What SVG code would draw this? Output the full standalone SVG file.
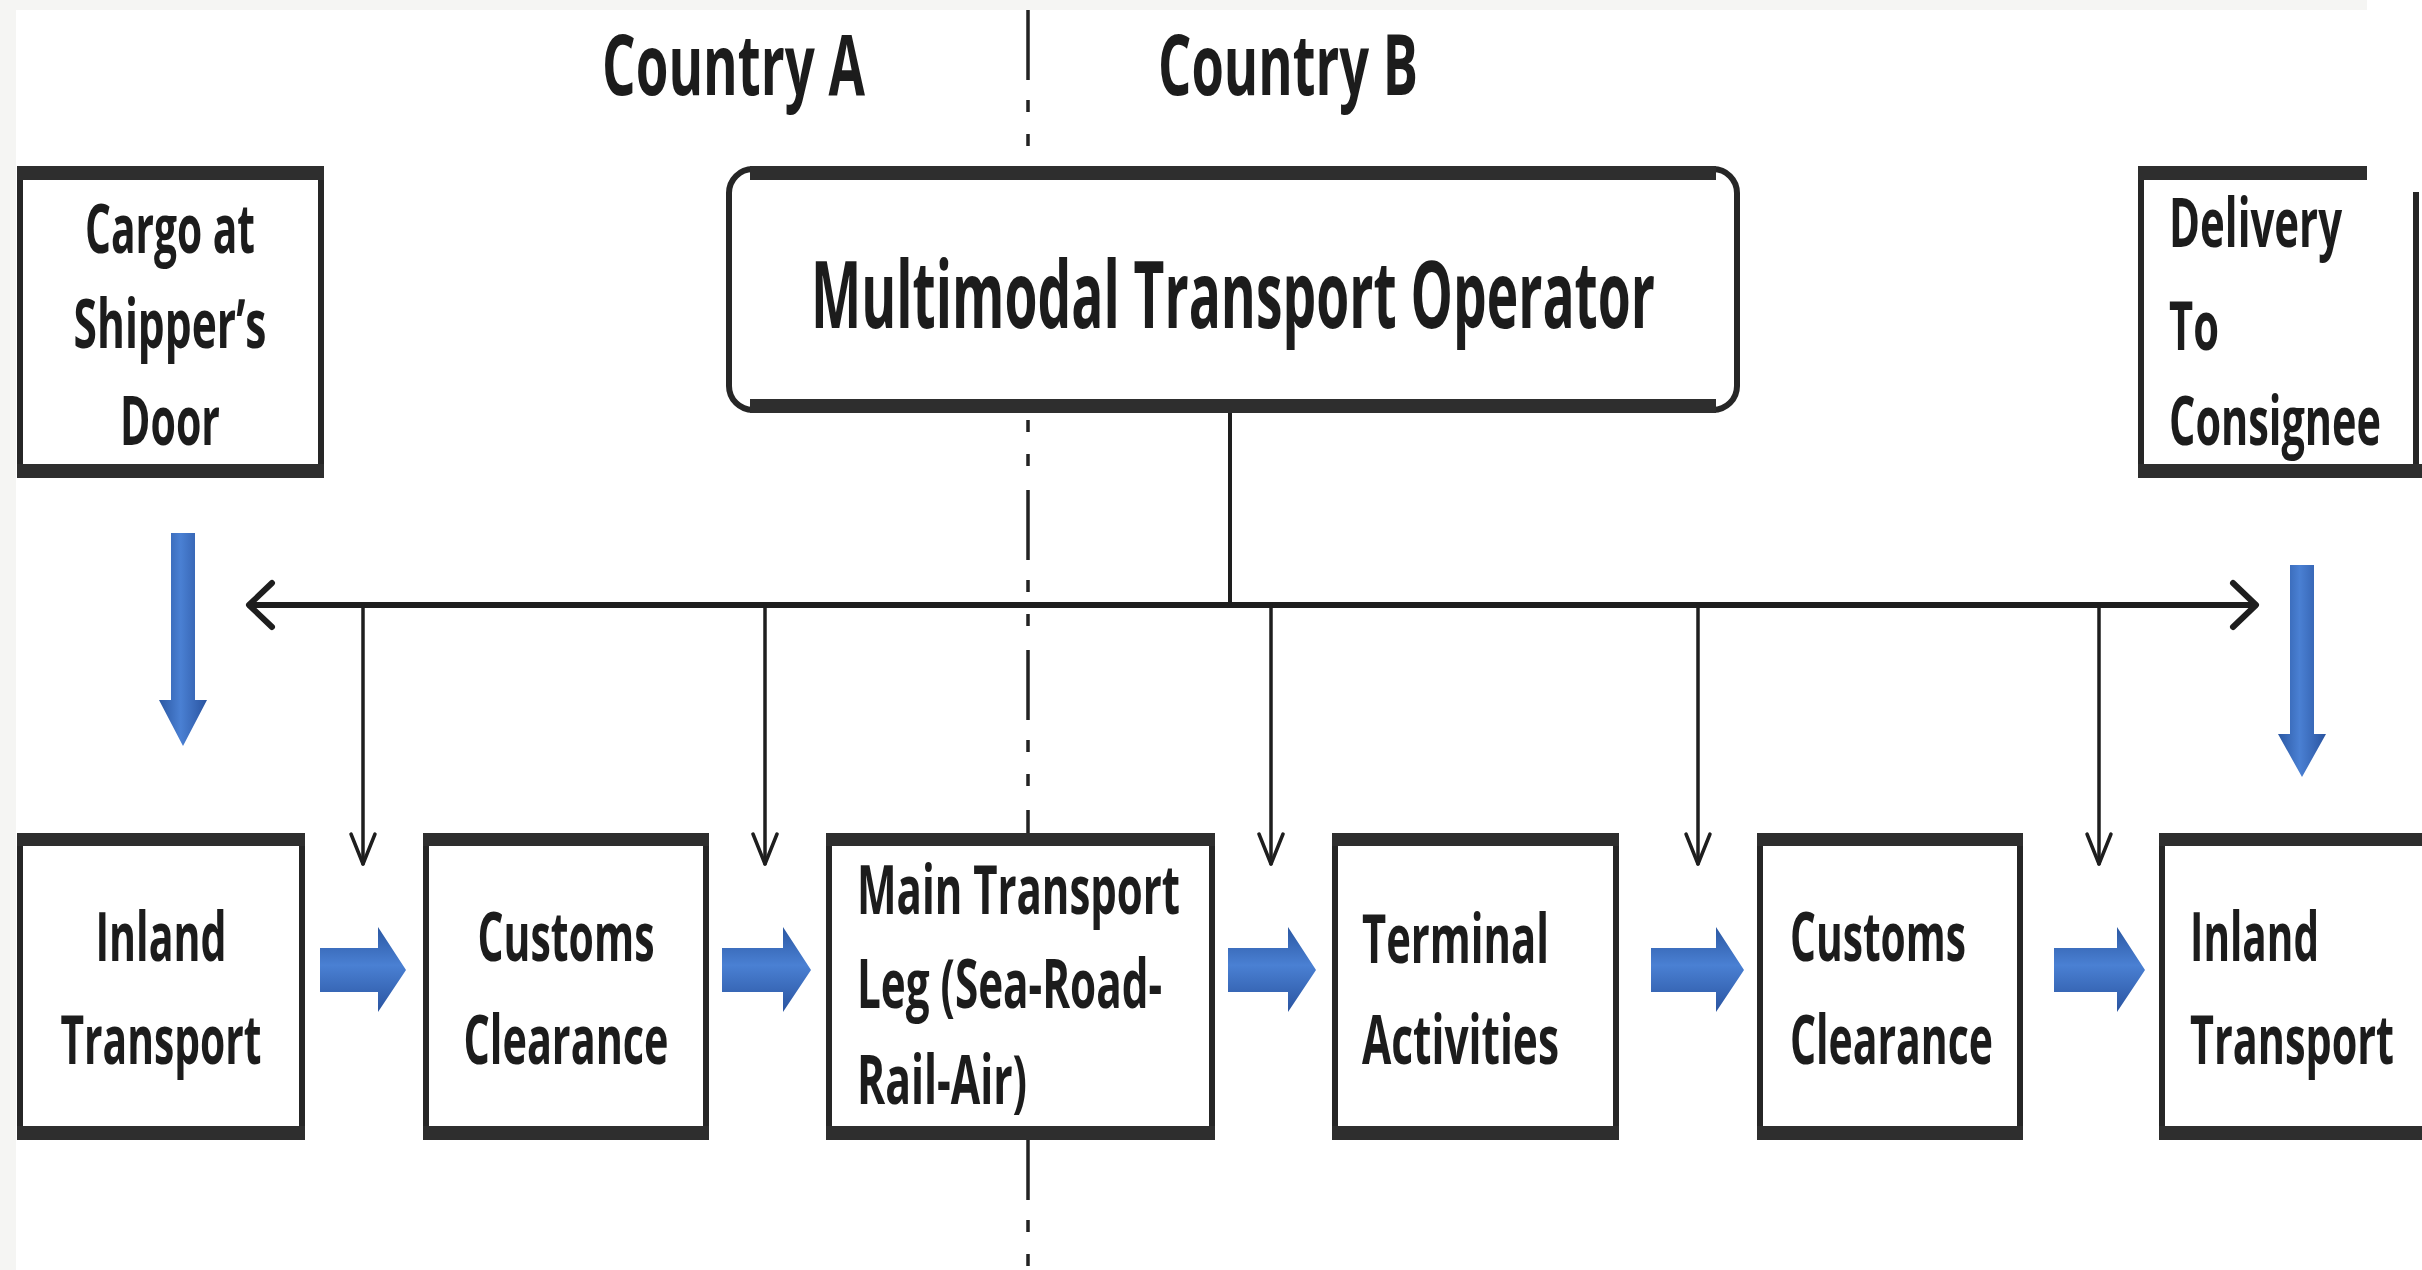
<svg xmlns="http://www.w3.org/2000/svg" width="2422" height="1270" viewBox="0 0 2422 1270">
<defs>
<style>
.txt{font-family:"Open Sans","Liberation Sans",sans-serif;font-weight:700;fill:#1c1c1c;}
.t66{font-size:68px;}
.box{fill:#fff;stroke:#262626;stroke-width:6;}
.band{fill:#2e2e2e;}
.conn{stroke:#1e1e1e;fill:none;stroke-linecap:round;stroke-linejoin:round;}
</style>
<linearGradient id="gv" x1="0" y1="0" x2="0" y2="1">
<stop offset="0" stop-color="#2b58a3"/><stop offset="0.45" stop-color="#4a80d3"/><stop offset="1" stop-color="#2a54a0"/>
</linearGradient>
<linearGradient id="gh" x1="0" y1="0" x2="1" y2="0">
<stop offset="0" stop-color="#2b58a3"/><stop offset="0.45" stop-color="#4a80d3"/><stop offset="1" stop-color="#2a54a0"/>
</linearGradient>
</defs>
<rect x="0" y="0" width="2422" height="1270" fill="#f5f5f3"/>
<rect x="16" y="10" width="2406" height="1260" fill="#fff"/>
<rect x="2367" y="0" width="55" height="10" fill="#fff"/>

<g id="country-divider">
<line x1="1028" y1="10" x2="1028" y2="1270" stroke="#222" stroke-width="3.5" stroke-dasharray="70 20 12 22 12 24"/>
</g>

<g id="labels">
<text class="txt" x="602" y="95" font-size="84" textLength="263" lengthAdjust="spacingAndGlyphs">Country A</text>
<text class="txt" x="1158" y="95" font-size="84" textLength="260" lengthAdjust="spacingAndGlyphs">Country B</text>
</g>

<g id="connectors">
<line class="conn" x1="1230" y1="413" x2="1230" y2="605" stroke-width="4"/>
<line class="conn" x1="250" y1="605" x2="2255" y2="605" stroke-width="6"/>
<polyline class="conn" points="272,583 249,605 272,627" stroke-width="6"/>
<polyline class="conn" points="2233,583 2256,605 2233,627" stroke-width="6"/>
<g stroke-width="3.5" class="conn">
<line x1="363" y1="605" x2="363" y2="864"/><polyline points="351,834 363,864 375,834"/>
<line x1="765" y1="605" x2="765" y2="864"/><polyline points="753,834 765,864 777,834"/>
<line x1="1271" y1="605" x2="1271" y2="864"/><polyline points="1259,834 1271,864 1283,834"/>
<line x1="1698" y1="605" x2="1698" y2="864"/><polyline points="1686,834 1698,864 1710,834"/>
<line x1="2099" y1="605" x2="2099" y2="864"/><polyline points="2087,834 2099,864 2111,834"/>
</g>
<g id="blue-down" fill="url(#gh)">
<polygon points="171,533 195,533 195,700 207,700 183,746 159,700 171,700"/>
<polygon points="2290,565 2314,565 2314,734 2326,734 2302,777 2278,734 2290,734"/>
</g>
<g id="blue-right" fill="url(#gv)">
<polygon points="320,948 378,948 378,927 406,970 378,1012 378,992 320,992"/>
<polygon points="722,948 783,948 783,927 811,970 783,1012 783,992 722,992"/>
<polygon points="1228,948 1288,948 1288,927 1316,970 1288,1012 1288,992 1228,992"/>
<polygon points="1651,948 1716,948 1716,927 1744,970 1716,1012 1716,992 1651,992"/>
<polygon points="2054,948 2117,948 2117,927 2145,970 2117,1012 2117,992 2054,992"/>
</g>
</g>

<g id="cargo">
<rect class="box" x="20" y="169" width="301" height="306"/>
<rect class="band" x="17" y="166" width="307" height="14"/>
<rect class="band" x="17" y="464" width="307" height="14"/>
<text class="txt t66" x="170" y="253" text-anchor="middle" textLength="170" lengthAdjust="spacingAndGlyphs">Cargo at</text>
<text class="txt t66" x="170" y="348" text-anchor="middle" textLength="193" lengthAdjust="spacingAndGlyphs">Shipper’s</text>
<text class="txt t66" x="170" y="445" text-anchor="middle" textLength="100" lengthAdjust="spacingAndGlyphs">Door</text>
</g>

<g id="mto">
<rect class="box" x="729" y="169" width="1008" height="241" rx="24"/>
<rect class="band" x="750" y="166" width="966" height="14"/>
<rect class="band" x="750" y="399" width="966" height="14"/>
<text class="txt" x="811" y="328" font-size="94" textLength="844" lengthAdjust="spacingAndGlyphs">Multimodal Transport Operator</text>
</g>

<g id="delivery">
<rect x="2141" y="169" width="280" height="306" fill="#fff"/>
<line x1="2141" y1="166" x2="2141" y2="478" stroke="#262626" stroke-width="6"/>
<line x1="2416" y1="192" x2="2416" y2="478" stroke="#262626" stroke-width="6"/>
<rect class="band" x="2138" y="166" width="229" height="14"/>
<rect class="band" x="2138" y="464" width="284" height="14"/>
<text class="txt t66" x="2169" y="247" textLength="173" lengthAdjust="spacingAndGlyphs">Delivery</text>
<text class="txt t66" x="2169" y="350" textLength="50" lengthAdjust="spacingAndGlyphs">To</text>
<text class="txt t66" x="2169" y="445" textLength="212" lengthAdjust="spacingAndGlyphs">Consignee</text>
</g>

<g id="inland-a">
<rect class="box" x="20" y="836" width="282" height="301"/>
<rect class="band" x="17" y="833" width="288" height="13"/>
<rect class="band" x="17" y="1126" width="288" height="14"/>
<text class="txt t66" x="161" y="961" text-anchor="middle" textLength="131" lengthAdjust="spacingAndGlyphs">Inland</text>
<text class="txt t66" x="161" y="1064" text-anchor="middle" textLength="201" lengthAdjust="spacingAndGlyphs">Transport</text>
</g>

<g id="customs-a">
<rect class="box" x="426" y="836" width="280" height="301"/>
<rect class="band" x="423" y="833" width="286" height="13"/>
<rect class="band" x="423" y="1126" width="286" height="14"/>
<text class="txt t66" x="566" y="961" text-anchor="middle" textLength="177" lengthAdjust="spacingAndGlyphs">Customs</text>
<text class="txt t66" x="566" y="1064" text-anchor="middle" textLength="205" lengthAdjust="spacingAndGlyphs">Clearance</text>
</g>

<g id="main-transport">
<rect class="box" x="829" y="836" width="383" height="301"/>
<rect class="band" x="826" y="833" width="389" height="13"/>
<rect class="band" x="826" y="1126" width="389" height="14"/>
<text class="txt t66" x="857" y="914" textLength="323" lengthAdjust="spacingAndGlyphs">Main Transport</text>
<text class="txt t66" x="857" y="1008" textLength="305" lengthAdjust="spacingAndGlyphs">Leg (Sea-Road-</text>
<text class="txt t66" x="857" y="1104" textLength="170" lengthAdjust="spacingAndGlyphs">Rail-Air)</text>
</g>

<g id="terminal">
<rect class="box" x="1335" y="836" width="281" height="301"/>
<rect class="band" x="1332" y="833" width="287" height="13"/>
<rect class="band" x="1332" y="1126" width="287" height="14"/>
<text class="txt t66" x="1362" y="963" textLength="187" lengthAdjust="spacingAndGlyphs">Terminal</text>
<text class="txt t66" x="1362" y="1064" textLength="197" lengthAdjust="spacingAndGlyphs">Activities</text>
</g>

<g id="customs-b">
<rect class="box" x="1760" y="836" width="260" height="301"/>
<rect class="band" x="1757" y="833" width="266" height="13"/>
<rect class="band" x="1757" y="1126" width="266" height="14"/>
<text class="txt t66" x="1790" y="961" textLength="176" lengthAdjust="spacingAndGlyphs">Customs</text>
<text class="txt t66" x="1790" y="1064" textLength="203" lengthAdjust="spacingAndGlyphs">Clearance</text>
</g>

<g id="inland-b">
<rect class="box" x="2162" y="836" width="300" height="301"/>
<rect class="band" x="2159" y="833" width="270" height="13"/>
<rect class="band" x="2159" y="1126" width="270" height="14"/>
<text class="txt t66" x="2190" y="961" textLength="129" lengthAdjust="spacingAndGlyphs">Inland</text>
<text class="txt t66" x="2190" y="1064" textLength="204" lengthAdjust="spacingAndGlyphs">Transport</text>
</g>
</svg>
